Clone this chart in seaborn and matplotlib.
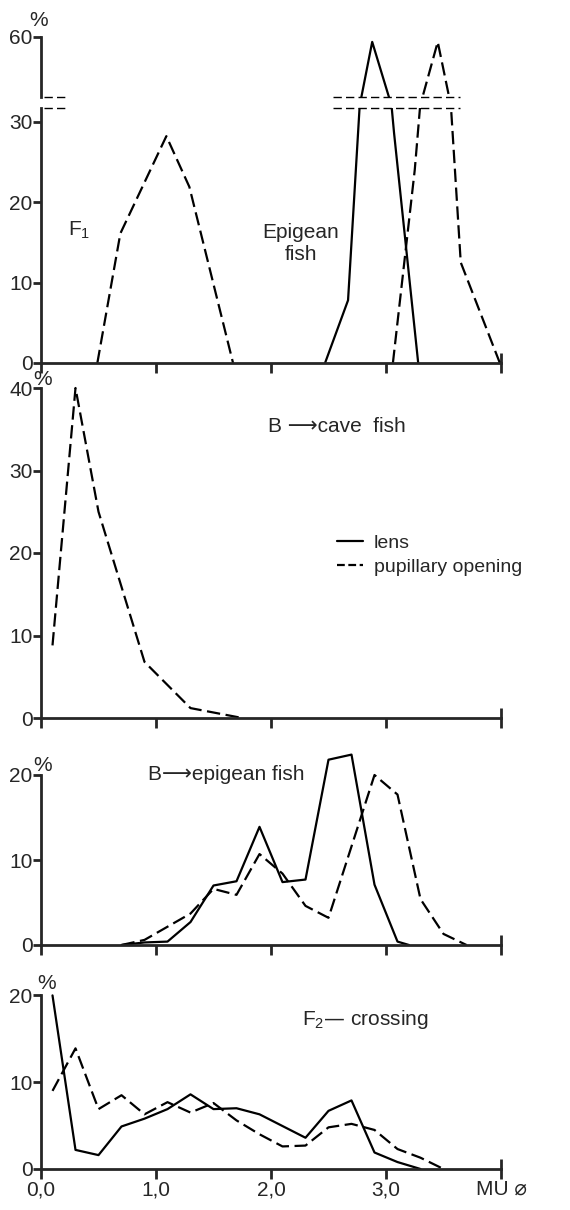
import matplotlib
matplotlib.use('Agg')
import matplotlib.pyplot as plt
from matplotlib.lines import Line2D
import seaborn as sns

# ---- data (MU diameter vs % of fish) ----
# panel 1: F1 and epigean fish (broken y axis)
f1_pupil_x = [0.49, 0.69, 1.09, 1.29, 1.67]
f1_pupil_y = [0, 16.1, 28.2, 21.9, 0]
epi_lens_x = [2.47, 2.67, 2.88, 3.07, 3.28]
epi_lens_y = [0, 7.8, 58, 28.6, 0]
epi_pupil_x = [3.06, 3.25, 3.45, 3.65, 3.99]
epi_pupil_y = [0, 24, 58, 12.5, 0]

# panel 2: B -> cave fish
bcave_pupil_x = [0.1, 0.3, 0.5, 0.9, 1.3, 1.75]
bcave_pupil_y = [8.8, 40, 25, 6.8, 1.2, 0]

# panel 3: B -> epigean fish
bepi_lens_x = [0.7, 0.9, 1.1, 1.3, 1.5, 1.7, 1.9, 2.1, 2.3, 2.5, 2.7, 2.9, 3.1, 3.2]
bepi_lens_y = [0, 0.3, 0.4, 2.7, 7.0, 7.5, 13.9, 7.4, 7.7, 21.8, 22.4, 7.1, 0.4, 0]
bepi_pupil_x = [0.7, 0.9, 1.3, 1.5, 1.7, 1.9, 2.1, 2.3, 2.5, 2.9, 3.1, 3.3, 3.5, 3.7]
bepi_pupil_y = [0, 0.6, 3.7, 6.6, 5.9, 10.7, 8.4, 4.6, 3.2, 20.0, 17.7, 5.4, 1.3, 0]

# panel 4: F2 crossing
f2_lens_x = [0.1, 0.3, 0.5, 0.7, 0.9, 1.1, 1.3, 1.5, 1.7, 1.9, 2.3, 2.5, 2.7, 2.9, 3.1, 3.3]
f2_lens_y = [20, 2.2, 1.6, 4.9, 5.8, 6.9, 8.6, 6.9, 7.0, 6.3, 3.6, 6.7, 7.9, 1.9, 0.8, 0]
f2_pupil_x = [0.1, 0.3, 0.5, 0.7, 0.9, 1.1, 1.3, 1.5, 1.7, 1.9, 2.1, 2.3, 2.5, 2.7, 2.9, 3.1, 3.3, 3.5]
f2_pupil_y = [9.0, 13.9, 6.9, 8.5, 6.3, 7.7, 6.5, 7.6, 5.6, 4.0, 2.6, 2.7, 4.8, 5.2, 4.5, 2.3, 1.3, 0]

x_ticks = [0, 1, 2, 3]
x_ticklabels = ['0,0', '1,0', '2,0', '3,0']
x_end_label = 'MU \u2300'

sns.set_style('ticks')
plt.rcParams['font.family'] = ['Liberation Sans', 'DejaVu Sans']
plt.rcParams['axes.linewidth'] = 2.0

W, H = 570, 1210
LW = 1.6
DASH = (0, (6, 2.5))
TICK_FS = 15
TEXT_FS = 14


def rect(bottom_px, top_px, left_px=41, right_px=501):
    return [left_px / W, 1 - bottom_px / H, (right_px - left_px) / W, (bottom_px - top_px) / H]


def draw(ax, x, y, dashed):
    sns.lineplot(x=x, y=y, ax=ax, color='black', linewidth=LW, estimator=None, sort=False,
                 linestyle=DASH if dashed else '-')


def style(ax, ylim, yticks, spine_top=None, xaxis=True, xlabels=False):
    ax.set_xlim(0, 4)
    ax.set_ylim(*ylim)
    sns.despine(ax=ax)
    ax.set_facecolor('none')
    ax.set_yticks(yticks)
    ax.set_yticklabels([str(t) for t in yticks])
    ax.tick_params(axis='y', direction='out', length=6, width=2, pad=0, labelsize=TICK_FS)
    if spine_top is not None:
        ax.spines['left'].set_bounds(ylim[0], spine_top)
    if xaxis:
        ax.set_xticks(x_ticks)
        ax.set_xticks([4], minor=True)
        ax.tick_params(axis='x', which='major', direction='out', length=7, width=2, pad=1,
                       labelsize=TICK_FS)
        ax.tick_params(axis='x', which='minor', direction='inout', length=14, width=2, pad=1,
                       labelsize=TICK_FS)
        if xlabels:
            ax.set_xticklabels(x_ticklabels)
            ax.set_xticklabels([x_end_label], minor=True)
        else:
            ax.set_xticklabels([])
            ax.set_xticklabels([], minor=True)
    else:
        ax.spines['bottom'].set_visible(False)
        ax.set_xticks([])
    ax.set_xlabel('')
    ax.set_ylabel('')


def percent(ax, y, dx, dy):
    ax.annotate('%', xy=(0, y), xytext=(dx, dy), textcoords='offset points',
                ha='center', va='bottom', fontsize=TICK_FS)


fig = plt.figure(figsize=(W / 100, H / 100), dpi=100)

# ---- panel 1 (broken axis) ----
lo_top, hi_bottom = 31.7, 35.5
ax1u = fig.add_axes(rect(97, 37))
ax1l = fig.add_axes(rect(363, 108))
for ax in (ax1u, ax1l):
    draw(ax, f1_pupil_x, f1_pupil_y, True)
    draw(ax, epi_lens_x, epi_lens_y, False)
    draw(ax, epi_pupil_x, epi_pupil_y, True)
style(ax1u, (hi_bottom, 60), [60], xaxis=False)
style(ax1l, (0, lo_top), [0, 10, 20, 30])
percent(ax1u, 60, -2, 5)

# break marks
break_spans = [(0.03, 0.23), (2.54, 3.64)]
for x0, x1 in break_spans:
    ax1u.hlines(hi_bottom, x0, x1, color='black', lw=1, linestyle=(0, (6, 3)), clip_on=False)
    ax1l.hlines(lo_top, x0, x1, color='black', lw=1, linestyle=(0, (6, 3)), clip_on=False)

ax1l.text(0.235, 16.5, r'$\mathregular{F_1}$', fontsize=TEXT_FS + 1, ha='left', va='center')
ax1l.text(2.26, 14.9, 'Epigean\nfish', fontsize=TEXT_FS + 1, ha='center', va='center',
          linespacing=1.2)

# ---- panel 2 ----
ax2 = fig.add_axes(rect(718, 718 - 41 * 8.25))
draw(ax2, bcave_pupil_x, bcave_pupil_y, True)
style(ax2, (0, 41), [0, 10, 20, 30, 40], spine_top=40)
percent(ax2, 40, 1, -1)
ax2.text(1.97, 35.3, 'B \u27f6cave  fish', fontsize=TEXT_FS + 1, ha='left', va='center')
handles = [Line2D([], [], color='black', lw=LW),
           Line2D([], [], color='black', lw=LW, linestyle=(0, (3.5, 1.6)))]
ax2.legend(handles, ['lens', 'pupillary opening'], loc='center left',
           bbox_to_anchor=(337 / W, 1 - 555 / H), bbox_transform=fig.transFigure,
           frameon=False, fontsize=TEXT_FS, handlelength=1.35, handletextpad=0.55,
           borderpad=0, borderaxespad=0, labelspacing=0.3)

# ---- panel 3 ----
ax3 = fig.add_axes(rect(945, 945 - 23 * 8.5))
draw(ax3, bepi_lens_x, bepi_lens_y, False)
draw(ax3, bepi_pupil_x, bepi_pupil_y, True)
style(ax3, (0, 23), [0, 10, 20], spine_top=20)
percent(ax3, 20, 1, 0)
ax3.text(0.93, 20.0, 'B\u27f6epigean fish', fontsize=TEXT_FS + 1, ha='left', va='center')

# ---- panel 4 ----
ax4 = fig.add_axes(rect(1169, 1169 - 21 * 8.68))
draw(ax4, f2_lens_x, f2_lens_y, False)
draw(ax4, f2_pupil_x, f2_pupil_y, True)
style(ax4, (0, 21), [0, 10, 20], spine_top=20, xlabels=True)
percent(ax4, 20, 4, 2)
ax4.text(2.27, 17.2, r'$\mathregular{F_2}$' + '\u2014 crossing',
         fontsize=TEXT_FS + 1, ha='left', va='center')

fig.savefig('out.png', dpi=100, facecolor='white')
